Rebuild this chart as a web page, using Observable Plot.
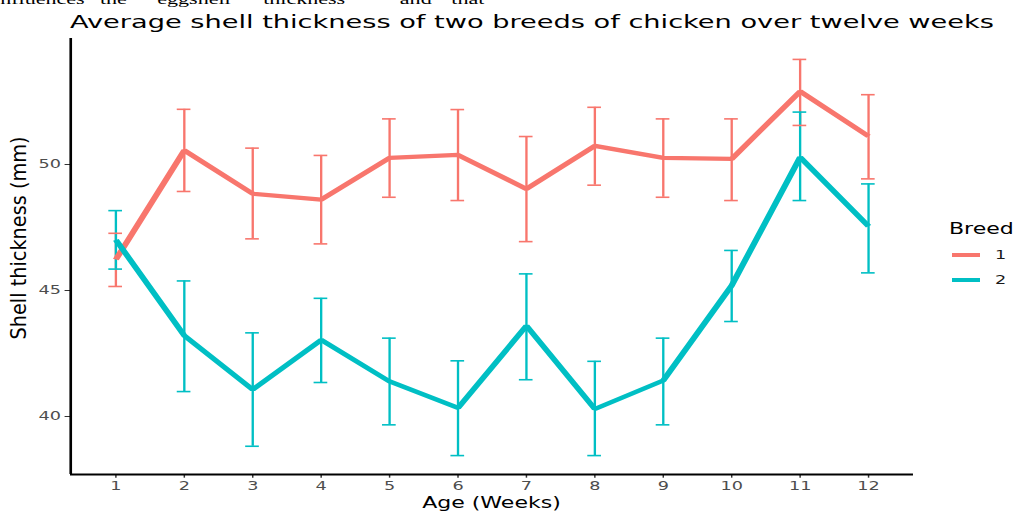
<!DOCTYPE html>
<html><head><meta charset="utf-8">
<script src="https://cdn.jsdelivr.net/npm/d3@7"></script>
<script src="https://cdn.jsdelivr.net/npm/@observablehq/plot@0.6"></script>
<style>
html,body{margin:0;padding:0;background:#fff;overflow:hidden;width:1014px;height:511px}
#wrap{position:absolute;left:0;top:0;height:511px;transform-origin:0 0;}
#wrap svg{position:absolute;left:0;top:0;}
</style></head><body><div id="wrap"></div>
<script>
// ---- data ----
const weeks = [1,2,3,4,5,6,7,8,9,10,11,12];
const breeds = ["1","2"];
const breed1Mean  = [46.23,50.56,48.84,48.61,50.26,50.38,49.03,50.74,50.26,50.22,52.90,51.12];
const breed1Upper = [47.27,52.19,50.65,50.36,51.81,52.18,51.11,52.27,51.81,51.81,54.17,52.77];
const breed1Lower = [45.16,48.93,47.05,46.85,48.70,48.57,46.94,49.18,48.70,48.57,51.55,49.43];
const breed2Mean  = [47.01,43.21,41.07,43.04,41.39,40.34,43.60,40.30,41.43,45.20,50.29,47.55];
const breed2Upper = [48.17,45.38,43.32,44.69,43.11,42.21,45.66,42.19,43.11,46.59,52.08,49.23];
const breed2Lower = [45.85,40.99,38.82,41.35,39.67,38.45,41.46,38.45,39.67,43.77,48.57,45.70];
const yTicks = [40,45,50];
const breedColors = ["#F8766D","#00BFC4"];
const titleText = "Average shell thickness of two breeds of chicken over twelve weeks";
const xLabel = "Age (Weeks)";
const yLabel = "Shell thickness (mm)";
const legendTitle = "Breed";
const cutWords = ["influences", "the", "eggshell", "thickness", "and", "that"];
const xDomain = [0.34, 12.66];
const yDomain = [37.70, 55.0];
const capHalf = 0.1;

// ---- build table ----
const means = [breed1Mean, breed2Mean], uppers = [breed1Upper, breed2Upper], lowers = [breed1Lower, breed2Lower];
const rows = [];
breeds.forEach((b, i) => weeks.forEach((w, j) => rows.push({week: w, breed: b, mean: means[i][j], hi: uppers[i][j], lo: lowers[i][j]})));

// ---- layout (the reference is stretched horizontally) ----
const S = 1.47;
const W = 1014 / S;
const wrap = document.getElementById("wrap");
wrap.style.width = W + "px";
wrap.style.transform = `scaleX(${S})`;

const chart = Plot.plot({
  width: W, height: 511,
  marginLeft: 70 / S, marginRight: 101 / S, marginTop: 38, marginBottom: 37,
  style: {fontFamily: "DejaVu Sans", fontSize: "12px", color: "#333333", background: "transparent", overflow: "visible"},
  x: {domain: xDomain, ticks: weeks, tickFormat: d => String(d), tickSize: 3.7, tickPadding: 3, label: null},
  y: {domain: yDomain, ticks: yTicks, tickFormat: d => String(d), tickSize: 3.7, tickPadding: 3, label: null},
  color: {domain: breeds, range: breedColors},
  marks: [
    Plot.ruleX(rows, {x: "week", y1: "lo", y2: "hi", stroke: "breed", strokeWidth: 1.6}),
    Plot.ruleY(rows, {y: "hi", x1: d => d.week - capHalf, x2: d => d.week + capHalf, stroke: "breed", strokeWidth: 1.6}),
    Plot.ruleY(rows, {y: "lo", x1: d => d.week - capHalf, x2: d => d.week + capHalf, stroke: "breed", strokeWidth: 1.6}),
    Plot.line(rows, {x: "week", y: "mean", z: "breed", stroke: "breed", strokeWidth: 4.3, strokeLinejoin: "miter", strokeLinecap: "butt"}),
    Plot.ruleY([yDomain[0]], {stroke: "#000", strokeWidth: 1.8}),
    Plot.ruleX([xDomain[0]], {stroke: "#000", strokeWidth: 1.8})
  ]
});
d3.select(chart).selectAll("text").attr("fill", "#4d4d4d");
wrap.appendChild(chart);

// ---- overlay texts: title, axis titles, legend ----
const ov = d3.select(wrap).append("svg").attr("width", W).attr("height", 511)
  .style("overflow", "visible").attr("font-family", "DejaVu Sans");

// cut-off line of document text at the very top (clipped in the reference too)
const cut = ov.append("text").attr("y", 3.8).attr("font-family", "Liberation Serif").attr("font-size", 15).attr("fill", "#000");
const cutX = [-4, 68, 107, 179, 272, 307];
cutWords.forEach((w, i) => cut.append("tspan").attr("x", cutX[i]).text(w));

ov.append("text").attr("x", 70 / S).attr("y", 28).attr("font-size", 18.5).attr("fill", "#000").text(titleText);
ov.append("text").attr("x", 491.5 / S).attr("y", 508).attr("text-anchor", "middle").attr("font-size", 15).attr("fill", "#000").text(xLabel);
ov.append("text").attr("transform", `translate(${26 / S},238) rotate(-90)`).attr("text-anchor", "middle")
  .attr("font-size", 15).attr("textLength", 203).attr("lengthAdjust", "spacingAndGlyphs").attr("fill", "#000").text(yLabel);

ov.append("text").attr("x", 949 / S).attr("y", 234).attr("font-size", 15).attr("fill", "#000").text(legendTitle);
breeds.forEach((b, i) => {
  const cy = 255 + i * 25;
  ov.append("line").attr("x1", 952 / S).attr("x2", 980 / S).attr("y1", cy).attr("y2", cy)
    .attr("stroke", breedColors[i]).attr("stroke-width", 4);
  ov.append("text").attr("x", 995 / S).attr("y", cy + 4.4).attr("font-size", 12).attr("fill", "#1a1a1a").text(b);
});
</script></body></html>
